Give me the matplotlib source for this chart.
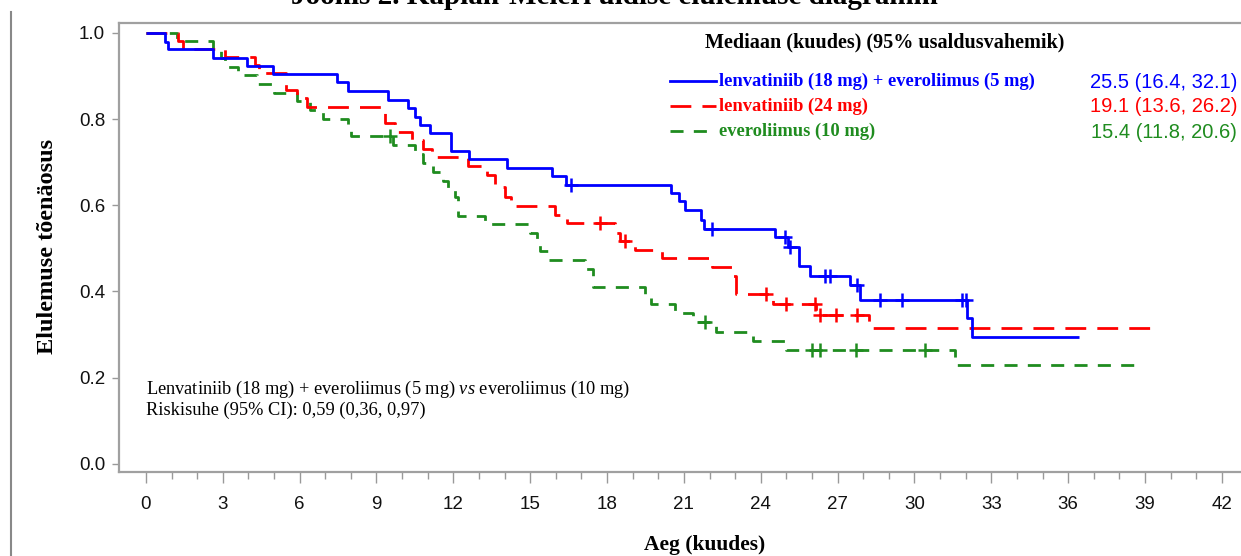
import numpy as np
import matplotlib
matplotlib.use("Agg")
import matplotlib.pyplot as plt
from matplotlib.lines import Line2D

# Kaplan-Meier curves (time in months, survival prob)
t_combo = [0, 0.74, 0.87, 2.63, 3.93, 4.97, 7.47, 7.9, 9.46, 10.24, 10.5, 10.7, 11.08,
           11.89, 12.62, 14.08, 15.87, 16.39, 20.5, 20.8, 21.04, 21.66, 21.78, 24.55,
           25.07, 25.5, 25.92, 27.5, 27.87, 32.07, 32.23]
s_combo = [1.0, 0.979, 0.962, 0.941, 0.923, 0.905, 0.885, 0.865, 0.845, 0.825, 0.806,
           0.787, 0.767, 0.727, 0.707, 0.686, 0.667, 0.647, 0.628, 0.609, 0.588, 0.566,
           0.545, 0.526, 0.504, 0.458, 0.435, 0.415, 0.381, 0.338, 0.295]
end_combo = 36.43
cens_combo = [16.6, 22.08, 24.94, 25.16, 26.5, 26.72, 27.74, 28.67, 29.52, 31.87, 32.03]

t_lenva = [0, 1.26, 1.46, 3.08, 4.25, 4.4, 5.46, 5.9, 6.3, 9.35, 9.72, 10.37, 10.8,
           11.15, 12.58, 13.3, 13.62, 14.01, 14.27, 15.96, 16.42, 18.3, 18.5, 19.09,
           20.16, 22.08, 22.92, 23.03, 24.46, 26.17, 28.23]
s_lenva = [1.0, 0.981, 0.962, 0.944, 0.925, 0.906, 0.868, 0.848, 0.828, 0.79, 0.771,
           0.752, 0.73, 0.712, 0.691, 0.67, 0.643, 0.62, 0.599, 0.578, 0.558, 0.535,
           0.516, 0.497, 0.477, 0.456, 0.435, 0.394, 0.371, 0.346, 0.316]
end_lenva = 39.21
cens_lenva = [17.72, 18.7, 24.2, 24.97, 26.1, 26.31, 26.93, 27.74]

t_evero = [0, 1.2, 2.63, 2.95, 3.1, 3.6, 4.32, 5.0, 5.88, 6.4, 6.92, 7.9, 8.0, 9.65,
           10.5, 10.8, 11.21, 11.6, 11.8, 12.06, 12.19, 13.23, 14.99, 15.25, 15.38,
           15.7, 17.13, 17.46, 19.48, 19.7, 20.65, 21.36, 22.27, 23.7, 25.0, 31.58]
s_evero = [1.0, 0.982, 0.961, 0.941, 0.922, 0.903, 0.882, 0.861, 0.841, 0.821, 0.8,
           0.781, 0.761, 0.74, 0.719, 0.699, 0.678, 0.657, 0.637, 0.619, 0.576, 0.556,
           0.535, 0.514, 0.493, 0.473, 0.452, 0.411, 0.392, 0.371, 0.35, 0.328, 0.307,
           0.286, 0.265, 0.23]
end_evero = 38.77
cens_evero = [9.52, 21.82, 26.02, 26.31, 27.71, 30.4]

labels = ["lenvatiniib (18 mg) + everoliimus (5 mg)", "lenvatiniib (24 mg)", "everoliimus (10 mg)"]
medians = ["25.5 (16.4, 32.1)", "19.1 (13.6, 26.2)", "15.4 (11.8, 20.6)"]
colors = ["#0000ff", "#ff0000", "#1f8c1f"]
styles = ["-", (0, (7.5, 4)), (0, (4.7, 3.7))]

xticks = np.arange(0, 43, 3)
yticks = [0.0, 0.2, 0.4, 0.6, 0.8, 1.0]

serif = ["Liberation Serif", "DejaVu Serif"]
sans = ["Liberation Sans", "DejaVu Sans"]
plt.rcParams["mathtext.fontset"] = "custom"
plt.rcParams["mathtext.it"] = "Liberation Serif:italic"
plt.rcParams["mathtext.rm"] = "Liberation Serif"

fig = plt.figure(figsize=(12.41, 5.56), dpi=100)
ax = fig.add_axes([119 / 1241, 84 / 556, 1149 / 1241, 449 / 556])

def px(x, y):
    return fig.transFigure.inverted().transform((x, 556 - y))

series = [(t_combo, s_combo, end_combo, cens_combo),
          (t_lenva, s_lenva, end_lenva, cens_lenva),
          (t_evero, s_evero, end_evero, cens_evero)]

# draw in reverse so blue sits on top
for i in [2, 1, 0]:
    t, s, tend, cens = series[i]
    tt = list(t) + [tend]
    ss = list(s) + [s[-1]]
    ax.step(tt, ss, where="post", color=colors[i], lw=2.0, linestyle=styles[i],
            solid_capstyle="butt", dash_capstyle="butt")
    idx = np.searchsorted(t, cens, side="right") - 1
    cy = np.array(s)[idx]
    ax.plot(cens, cy, linestyle="none", marker="+", color=colors[i],
            markersize=10, markeredgewidth=1.8)

ax.set_xlim(-1.05, 43.8)
ax.set_ylim(-0.019, 1.023)
ax.set_xticks(xticks)
ax.set_xticks(np.arange(0, 43, 1), minor=True)
ax.set_yticks(yticks)
ax.set_xticklabels([str(x) for x in xticks], fontfamily=sans, fontsize=13.5)
ax.set_yticklabels(["%.1f" % y for y in yticks], fontfamily=sans, fontsize=13.5)
ax.tick_params(axis="x", which="major", length=8, width=1, color="#999999", pad=9, labelcolor="#111111")
ax.tick_params(axis="x", which="minor", length=5, width=1, color="#999999")
ax.tick_params(axis="y", length=5, width=1, color="#999999", pad=5, labelcolor="#111111")
for sp in ax.spines.values():
    sp.set_color("#a0a0a0")
    sp.set_linewidth(1.6)

ax.set_xlabel("Aeg (kuudes)", fontfamily=serif, fontweight="bold", fontsize=15.5)
ax.xaxis.label.set_va("center")
ax.xaxis.set_label_coords((705 - 119) / 1149, -(545 - 472) / 449)
ax.set_ylabel("Elulemuse tõenäosus", fontfamily=serif, fontweight="bold", fontsize=17.5)
ax.yaxis.label.set_va("center")
ax.yaxis.set_label_coords(-(119 - 48) / 1149, (472 - 246) / 449)

# median legend block
hx, hy = px(885, 42)
fig.text(hx, hy, "Mediaan (kuudes) (95% usaldusvahemik)", fontfamily=serif,
         fontweight="bold", fontsize=14.5, ha="center", va="center")
for i in range(3):
    y = 81 + 25 * i
    x0, y0 = px(670, y)
    x1, _ = px(716, y)
    fig.add_artist(Line2D([x0, x1], [y0, y0], color=colors[i], lw=2.0, linestyle=styles[i],
                          dash_capstyle="butt"))
    tx, ty = px(719, y)
    fig.text(tx, ty, labels[i], color=colors[i], fontfamily=serif, fontweight="bold",
             fontsize=13.3, ha="left", va="center")
    mx, my = px(1237, y + 1)
    fig.text(mx, my, medians[i], color=colors[i], fontfamily=sans, fontsize=14.5,
             ha="right", va="center")

# hazard ratio note
nx, ny = px(146, 389)
fig.text(nx, ny, "Lenvatiniib (18 mg) + everoliimus (5 mg) $\\mathit{vs}$ everoliimus (10 mg)",
         fontfamily=serif, fontsize=13.2, ha="left", va="center")
nx, ny = px(146, 410)
fig.text(nx, ny, "Riskisuhe (95% CI): 0,59 (0,36, 0,97)", fontfamily=serif, fontsize=13.2,
         ha="left", va="center")

# title cut off at top of the page
tx, ty = px(614, 4)
fig.text(tx, ty, "Joonis 2. Kaplan-Meieri üldise elulemuse diagramm", fontfamily=serif,
         fontweight="bold", fontsize=21, ha="center", va="baseline")

# page border on the left
bx0, by0 = px(11, 12)
bx1, by1 = px(11, 556)
fig.add_artist(Line2D([bx0, bx1], [by0, by1], color="#888888", lw=1.5))

fig.savefig("out.png", dpi=100)
